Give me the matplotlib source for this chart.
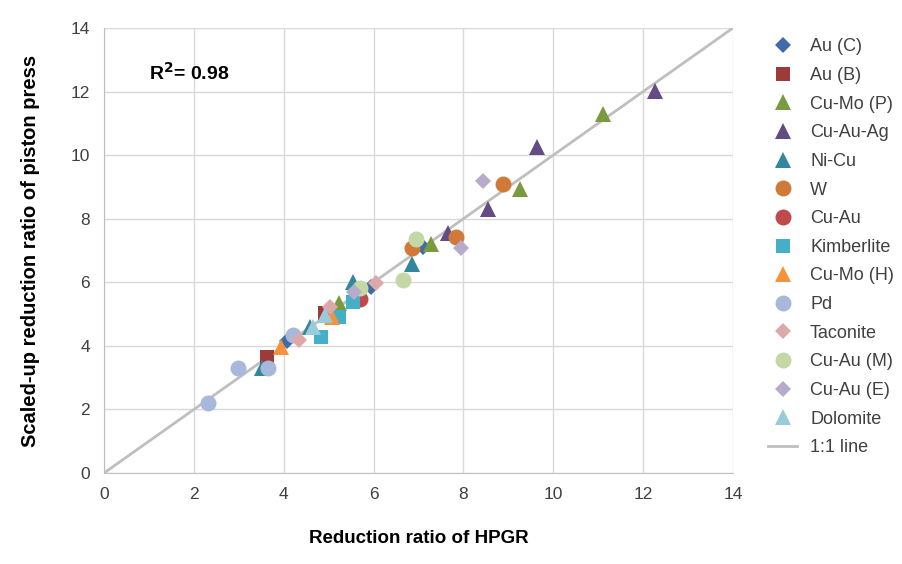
import matplotlib
matplotlib.use("Agg")
import matplotlib.pyplot as plt

plt.rcParams['font.family'] = ['Liberation Sans', 'DejaVu Sans']

series_names = ["Au (C)", "Au (B)", "Cu-Mo (P)", "Cu-Au-Ag", "Ni-Cu", "W", "Cu-Au",
                "Kimberlite", "Cu-Mo (H)", "Pd", "Taconite", "Cu-Au (M)", "Cu-Au (E)", "Dolomite"]
au_c_x = [4.07, 5.94, 7.11]
au_c_y = [4.16, 5.86, 7.12]
au_b_x = [3.62, 4.92]
au_b_y = [3.64, 5.03]
cumo_p_x = [5.24, 7.27, 9.27, 11.10]
cumo_p_y = [5.34, 7.22, 8.95, 11.28]
cuauag_x = [7.66, 8.55, 9.64, 12.26]
cuauag_y = [7.54, 8.29, 10.25, 12.01]
nicu_x = [3.51, 4.59, 5.55, 6.85]
nicu_y = [3.29, 4.60, 6.02, 6.57]
w_x = [6.86, 7.83, 8.89]
w_y = [7.07, 7.41, 9.08]
cuau_x = [5.70]
cuau_y = [5.49]
kimb_x = [4.83, 5.22, 5.55]
kimb_y = [4.29, 4.92, 5.39]
cumo_h_x = [3.95, 5.07]
cumo_h_y = [3.97, 4.92]
pd_x = [2.32, 2.99, 3.66, 4.21]
pd_y = [2.19, 3.29, 3.31, 4.34]
tac_x = [4.33, 5.03, 6.05]
tac_y = [4.20, 5.23, 5.97]
cuau_m_x = [5.70, 6.66, 6.94]
cuau_m_y = [5.81, 6.07, 7.36]
cuau_e_x = [5.56, 7.95, 8.44]
cuau_e_y = [5.70, 7.07, 9.18]
dol_x = [4.66, 4.92]
dol_y = [4.60, 4.97]

xs = [au_c_x, au_b_x, cumo_p_x, cuauag_x, nicu_x, w_x, cuau_x, kimb_x, cumo_h_x,
      pd_x, tac_x, cuau_m_x, cuau_e_x, dol_x]
ys = [au_c_y, au_b_y, cumo_p_y, cuauag_y, nicu_y, w_y, cuau_y, kimb_y, cumo_h_y,
      pd_y, tac_y, cuau_m_y, cuau_e_y, dol_y]
colors = ["#3F6CA8", "#9B3B3A", "#7A9A3F", "#634C84", "#33879C", "#D07A3A", "#C04A4A",
          "#46AFC8", "#F7923A", "#A8B8DA", "#DDA9A8", "#C3D8A4", "#B8AACB", "#9ACBDA"]
markers = ["D", "s", "^", "^", "^", "o", "o", "s", "^", "o", "D", "o", "D", "^"]
sizes = {"D": 8, "s": 10, "^": 11, "o": 11.5}

line_vals = [0, 14]
ticks = [0, 2, 4, 6, 8, 10, 12, 14]

fig = plt.figure(figsize=(9.03, 5.64), dpi=100)
ax = fig.add_axes([0.1152, 0.1613, 0.6965, 0.7891])

for name, x, y, c, m in zip(series_names, xs, ys, colors, markers):
    ax.plot(x, y, linestyle='none', marker=m, markersize=sizes[m], color=c,
            markeredgewidth=0, label=name, zorder=3)
ax.plot(line_vals, line_vals, color="#BFBFBF", linewidth=2, label="1:1 line", zorder=2)

ax.set_xlim(0, 14)
ax.set_ylim(0, 14)
ax.set_xticks(ticks)
ax.set_yticks(ticks)
ax.grid(True, color="#D9D9D9", linewidth=1)
ax.set_axisbelow(True)
for s in ["top", "right"]:
    ax.spines[s].set_visible(False)
for s in ["left", "bottom"]:
    ax.spines[s].set_color("#BFBFBF")
ax.tick_params(length=0, labelsize=12.5, colors="#404040", pad=10)
ax.set_xlabel("Reduction ratio of HPGR", fontsize=13.5, fontweight='bold', labelpad=20)
ax.set_ylabel("Scaled-up reduction ratio of piston press", fontsize=14.5, fontweight='bold', labelpad=22)
ax.text(1.0, 12.6, "R$^{\\mathbf{2}}$= 0.98", fontsize=14, fontweight='bold', va='center')

leg = ax.legend(loc='upper left', bbox_to_anchor=(1.045, 0.993), frameon=False, fontsize=13,
                handlelength=1.6, labelspacing=0.645, borderaxespad=0, handletextpad=0.7)
for t in leg.get_texts():
    t.set_color("#404040")

fig.savefig("out.png", dpi=100)
